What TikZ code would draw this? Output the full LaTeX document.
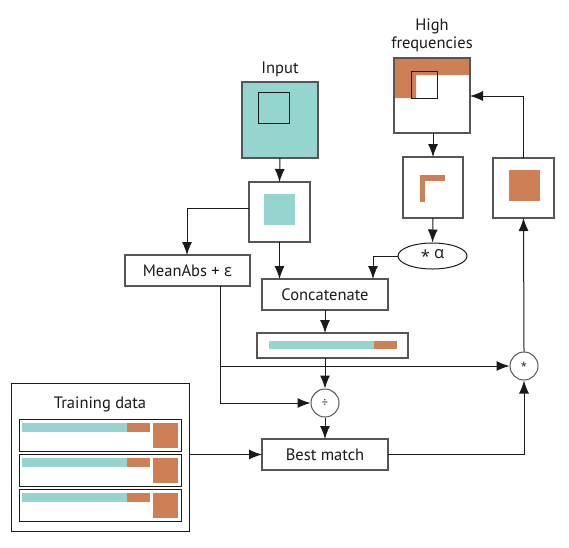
\documentclass[tikz,border=0pt]{standalone}
\usepackage{fontspec}
\setmainfont{PT Sans}
\newfontfamily\greekfont{Open Sans}
\usetikzlibrary{arrows.meta,shapes.geometric}
\definecolor{teal1}{HTML}{96D4CF}
\definecolor{orng}{HTML}{CD8056}
\definecolor{bord}{HTML}{555555}
\definecolor{ink}{HTML}{1A1A1A}
\tikzset{
  x=1pt,y=-1pt,
  every node/.style={font=\fontsize{16.5}{19}\selectfont, text=ink},
  box/.style={draw=bord, line width=1.2pt, fill=white, inner sep=0pt, outer sep=0pt},
  tbox/.style={draw=bord, line width=1.2pt, fill=white, inner sep=0pt, outer sep=0pt, align=center},
  conn/.style={draw=ink, line width=1pt},
  arr/.style={conn, -{Latex[length=13pt,width=10pt]}},
  op/.style={draw=bord, line width=1pt, fill=white, circle, minimum size=28pt, inner sep=0pt},
}
\begin{document}
\begin{tikzpicture}
\useasboundingbox (0,0) rectangle (569,547);
% Input
\node (inlabel) at (280,69) {Input};
\node[box, fill=teal1, minimum width=76pt, minimum height=76pt] (input) at (280,120) {};
\draw[draw=ink, line width=1pt] (258,92) rectangle (289,123);
% box2
\node[box, minimum width=61pt, minimum height=60pt] (b2) at (279.5,212) {};
\fill[teal1] (264,194) rectangle (295,225);
% MeanAbs
\node[tbox, minimum width=125pt, minimum height=31pt] (mean) at (187.5,270.5) {MeanAbs + {\greekfont ε}};
% Concatenate
\node[tbox, minimum width=126pt, minimum height=31pt] (concat) at (325,294.5) {Concatenate};
% High frequencies
\node[align=center, font=\fontsize{16.5}{18}\selectfont] (hflabel) at (432,35) {High\\frequencies};
\node[box, minimum width=76pt, minimum height=75pt] (hf) at (432,95.5) {};
\fill[orng] (394.5,58.5) -- (469.5,58.5) -- (469.5,75) -- (416,75) -- (416,98) -- (394.5,98) -- cycle;
\draw[draw=ink, line width=1pt] (411,71) rectangle (437,98);
\draw[draw=bord, line width=1.2pt] (hf.south west) rectangle (hf.north east);
% corner box
\node[box, minimum width=60pt, minimum height=61pt] (corner) at (433,187.5) {};
\fill[orng] (420,175) rectangle (425,202);
\fill[orng] (420,175) rectangle (445,181);
% right box
\node[box, minimum width=61pt, minimum height=60pt] (right) at (523.5,188) {};
\fill[orng] (509,170) rectangle (540,201);
% ellipse
\node[draw=ink, line width=1pt, ellipse, minimum width=69pt, minimum height=26pt, inner sep=0pt] (alpha) at (432.5,256) {{\greekfont\raisebox{-4pt}{*}\ α}};
% vector
\node[box, minimum width=151pt, minimum height=25pt] (vec) at (332.5,345.5) {};
\fill[teal1] (269,341) rectangle (374,349);
\fill[orng] (374,341) rectangle (397,349);
% operators
\node[op] (div) at (325,403) {\fontsize{12}{12}\selectfont ÷};
\node[op] (mul) at (524,366) {\greekfont\fontsize{11}{11}\selectfont\raisebox{-3pt}{*}};
% Best match
\node[tbox, minimum width=126pt, minimum height=31pt] (best) at (325,454.5) {Best match};
% Training data
\node[draw=ink, line width=1pt, fill=white, minimum width=178pt, minimum height=148pt, inner sep=0pt] (train) at (100,457) {};
\node (trlabel) at (100,404) {Training data};
\foreach \dy in {0,35,70}{
  \draw[draw=ink, line width=1pt, fill=white] (19,419+\dy) rectangle (181,451+\dy);
  \fill[teal1] (22,423+\dy) rectangle (127,432+\dy);
  \fill[orng] (127,423+\dy) rectangle (150,432+\dy);
  \fill[orng] (153,423+\dy) rectangle (178,448+\dy);
}
% connectors
\coordinate (j1) at (187,208);
\coordinate (j2) at (373,256);
\coordinate (jm) at (220,366);
\draw[arr] (input.south) -- (b2.north);
\draw[arr] (b2.west |- j1) -- (j1) -- (mean.north -| j1);
\draw[arr] (b2.south) -- (concat.north -| b2.south);
\draw[arr] (alpha.west) -- (j2) -- (concat.north -| j2);
\draw[arr] (corner.south) -- (alpha.north);
\draw[arr] (hf.south -| corner.north) -- (corner.north);
\draw[arr] (right.north) -- (right.north |- 0,96) -- (hf.east |- 0,96);
\draw[arr] (concat.south) -- (vec.north -| concat.south);
\draw[arr] (vec.south -| div.north) -- (div.north);
\draw[arr] (div.south) -- (best.north);
\draw[arr] (mean.south -| jm) -- (jm |- div.west) -- (div.west);
\draw[arr] (jm) -- (mul.west);
\draw[arr] (best.east) -- (best.east -| mul.south) -- (mul.south);
\draw[arr] (mul.north) -- (right.south);
\draw[arr] (train.east |- best.west) -- (best.west);
\end{tikzpicture}
\end{document}
